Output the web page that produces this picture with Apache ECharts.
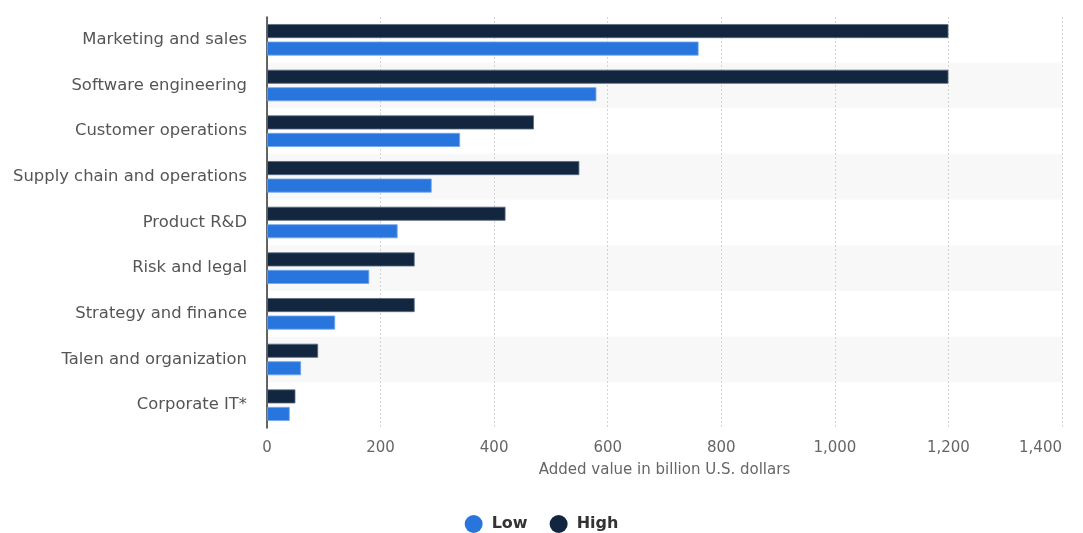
<!DOCTYPE html>
<html>
<head>
<meta charset="utf-8">
<script src="https://cdn.jsdelivr.net/npm/echarts@6/dist/echarts.min.js"></script>
<style>
html,body{margin:0;padding:0;background:#fff;}
#chart{width:1083px;height:533px;}
</style>
</head>
<body>
<div id="chart"></div>
<script>
const categories = ["Marketing and sales","Software engineering","Customer operations","Supply chain and operations","Product R&D","Risk and legal","Strategy and finance","Talen and organization","Corporate IT*"];
const lowValues = [760, 580, 340, 290, 230, 180, 120, 60, 40];
const highValues = [1200, 1200, 470, 550, 420, 260, 260, 90, 50];
const xTicks = [0, 200, 400, 600, 800, 1000, 1200, 1400];

const chart = echarts.init(document.getElementById('chart'));
const font = 'DejaVu Sans';
chart.setOption({
  animation: false,
  textStyle: {fontFamily: font},
  grid: {left: 267, top: 17, width: 795, height: 411, containLabel: false},
  legend: {
    top: 510, left: 'center',
    data: ['Low', 'High'],
    icon: 'circle', itemWidth: 18, itemHeight: 18, itemGap: 22,
    itemStyle: {borderWidth: 0},
    textStyle: {fontFamily: font, fontSize: 16, fontWeight: 'bold', color: '#333', padding: [0, 0, 0, 4]}
  },
  xAxis: {
    type: 'value', min: xTicks[0], max: xTicks[xTicks.length - 1], interval: 200,
    name: 'Added value in billion U.S. dollars', nameLocation: 'middle', nameGap: 35,
    nameTextStyle: {fontFamily: font, fontSize: 15, color: '#666'},
    axisLine: {show: false}, axisTick: {show: false},
    axisLabel: {fontFamily: font, fontSize: 15, color: '#666', margin: 13,
      alignMaxLabel: 'right',
      formatter: v => v.toLocaleString('en-US')},
    splitLine: {show: true, lineStyle: {color: '#d4d4d4', type: [2, 2], width: 1}}
  },
  yAxis: {
    type: 'category', data: categories, inverse: true,
    axisLine: {show: true, lineStyle: {color: '#333', width: 1.5}},
    axisTick: {show: false},
    axisLabel: {fontFamily: font, fontSize: 16.4, color: '#555', margin: 20},
    splitArea: {show: true, areaStyle: {color: ['#ffffff', '#f8f8f8']}}
  },
  series: [
    {name: 'High', type: 'bar', data: highValues, barWidth: 14, barGap: '25%',
     itemStyle: {color: '#12263f', borderColor: '#5a6b80', borderWidth: 0.8}},
    {name: 'Low', type: 'bar', data: lowValues, barWidth: 14, barGap: '25%',
     itemStyle: {color: '#2876dd', borderColor: '#6fa6ee', borderWidth: 0.8}}
  ]
});
</script>
</body>
</html>
